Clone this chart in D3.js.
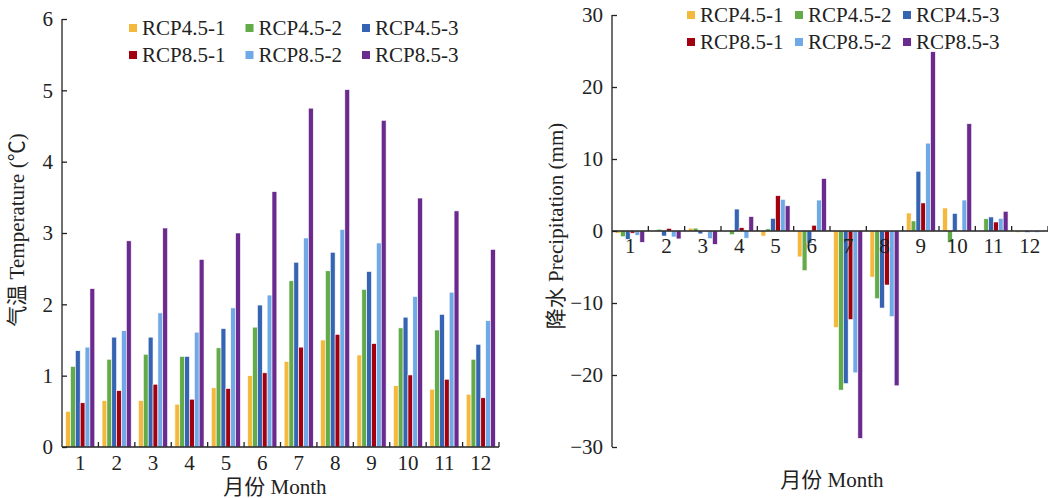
<!DOCTYPE html>
<html>
<head>
<meta charset="utf-8">
<script src="https://cdn.jsdelivr.net/npm/d3@7"></script>
<style>
  body { margin: 0; background: #fff; }
  svg text { font-family: "Liberation Serif", "Noto Sans CJK SC", serif; fill: #222; }
  .axis path, .axis line { stroke: #222; stroke-width: 1.3; }
</style>
</head>
<body>
<div id="chart"></div>
<script>
var months = ["1","2","3","4","5","6","7","8","9","10","11","12"];
var seriesNames = ["RCP4.5-1","RCP4.5-2","RCP4.5-3","RCP8.5-1","RCP8.5-2","RCP8.5-3"];
var seriesColors = ["#f4b93c","#62ab48","#3565b2","#a2000f","#6fa9e6","#6a2a8e"];

// temperature change (℃), one array per scenario, Jan..Dec
var tempR45_1 = [0.50,0.65,0.65,0.60,0.83,1.00,1.20,1.50,1.29,0.86,0.81,0.74];
var tempR45_2 = [1.13,1.23,1.30,1.27,1.39,1.68,2.33,2.47,2.21,1.67,1.64,1.23];
var tempR45_3 = [1.35,1.54,1.54,1.27,1.66,1.99,2.59,2.73,2.46,1.82,1.86,1.44];
var tempR85_1 = [0.62,0.79,0.88,0.67,0.82,1.04,1.40,1.58,1.45,1.01,0.95,0.69];
var tempR85_2 = [1.40,1.63,1.88,1.61,1.95,2.13,2.93,3.05,2.86,2.11,2.17,1.77];
var tempR85_3 = [2.22,2.89,3.07,2.63,3.00,3.58,4.75,5.01,4.58,3.49,3.31,2.77];

// precipitation change (mm)
var precR45_1 = [-0.3,0.1,0.4,-0.1,-0.7,-3.6,-13.4,-6.4,2.5,3.2,0.05,-0.2];
var precR45_2 = [-0.8,0.25,0.4,-0.5,0.3,-5.5,-22.1,-9.4,1.4,-1.6,1.7,-0.05];
var precR45_3 = [-1.15,-0.7,-0.4,3.05,1.76,-1.7,-21.2,-10.7,8.3,2.45,1.95,-0.2];
var precR85_1 = [-0.3,0.37,-0.1,0.46,4.9,0.8,-12.3,-7.5,3.9,0.1,1.25,-0.05];
var precR85_2 = [-0.6,-0.83,-1.07,-1.0,4.4,4.3,-19.7,-11.9,12.2,4.3,1.76,-0.2];
var precR85_3 = [-1.57,-1.1,-1.85,2.0,3.5,7.3,-28.8,-21.5,24.9,14.9,2.74,-0.05];

var tempTicks = [0,1,2,3,4,5,6];
var precTicks = [-30,-20,-10,0,10,20,30];

var tempSeries = [tempR45_1,tempR45_2,tempR45_3,tempR85_1,tempR85_2,tempR85_3];
var precSeries = [precR45_1,precR45_2,precR45_3,precR85_1,precR85_2,precR85_3];

var fontSize = "21px";

var svg = d3.select("#chart").append("svg")
  .attr("width", 1048).attr("height", 498);

function drawPanel(opt) {
  var g = svg.append("g");
  var x = d3.scaleBand().domain(months).range([opt.left, opt.right])
    .paddingInner(0.2).paddingOuter(0.1);
  var xs = d3.scaleBand().domain(seriesNames).range([0, x.bandwidth()]);
  var y = d3.scaleLinear().domain(opt.domain).range([opt.bottom, opt.top]);

  // bars
  opt.series.forEach(function(vals, si) {
    g.selectAll(".bar" + si)
      .data(vals)
      .enter().append("rect")
      .attr("x", function(d, i) { return x(months[i]) + xs(seriesNames[si]); })
      .attr("width", xs.bandwidth())
      .attr("y", function(d) { return y(Math.max(0, d)); })
      .attr("height", function(d) { return Math.abs(y(d) - y(0)); })
      .attr("fill", seriesColors[si])
      .attr("stroke", "#fff")
      .attr("stroke-width", 0.6);
  });

  // y axis
  var yAxis = d3.axisRight(y).tickValues(opt.ticks).tickSize(5).tickFormat(function(d) {
    return d < 0 ? "\u2212" + Math.abs(d) : d;
  });
  var ya = g.append("g").attr("class", "axis")
    .attr("transform", "translate(" + opt.left + ",0)")
    .call(yAxis);
  ya.select(".domain").attr("d", "M" + 0 + "," + opt.top + "V" + opt.bottom);
  ya.selectAll("text")
    .attr("x", -9).attr("text-anchor", "end")
    .style("font-size", fontSize);

  // x axis line with ticks at group boundaries
  var zeroY = y(0);
  var xa = g.append("g").attr("class", "axis");
  xa.append("line")
    .attr("x1", opt.left).attr("x2", opt.right)
    .attr("y1", zeroY).attr("y2", zeroY);
  d3.range(1, months.length + 1).forEach(function(i) {
    var bx = opt.left + i * x.step();
    xa.append("line")
      .attr("x1", bx).attr("x2", bx)
      .attr("y1", zeroY).attr("y2", zeroY - 5);
  });
  g.selectAll(".mlab")
    .data(months)
    .enter().append("text")
    .attr("x", function(d) { return x(d) + x.bandwidth() / 2; })
    .attr("y", zeroY + opt.labelDy)
    .attr("text-anchor", "middle")
    .style("font-size", fontSize)
    .text(function(d) { return d; });

  // axis titles
  g.append("text")
    .attr("transform", "translate(" + opt.yTitleX + "," + opt.yTitleY + ") rotate(-90)")
    .attr("text-anchor", "middle")
    .style("font-size", fontSize)
    .text(opt.yTitle);
  g.append("text")
    .attr("x", opt.xTitleX).attr("y", opt.xTitleY)
    .attr("text-anchor", "middle")
    .style("font-size", fontSize)
    .text("月份 Month");

  // legend
  var lg = g.append("g");
  seriesNames.forEach(function(name, i) {
    var col = i % 3, row = Math.floor(i / 3);
    var lx = opt.legX + col * opt.legStep, ly = opt.legY + row * opt.legRow;
    lg.append("rect")
      .attr("x", lx).attr("y", ly - 4).attr("width", 8).attr("height", 8)
      .attr("fill", seriesColors[i]);
    lg.append("text")
      .attr("x", lx + opt.legGap).attr("y", ly + 7)
      .style("font-size", fontSize)
      .text(name);
  });
}

drawPanel({
  series: tempSeries, domain: [0, 6], ticks: tempTicks,
  left: 62, right: 499, top: 19, bottom: 447, labelDy: 23,
  yTitle: "气温 Temperature (\u2103)", yTitleX: 24, yTitleY: 230,
  xTitleX: 275, xTitleY: 494,
  legX: 129, legY: 28, legStep: 116.5, legRow: 27, legGap: 13
});

drawPanel({
  series: precSeries, domain: [-30, 30], ticks: precTicks,
  left: 612, right: 1048, top: 15, bottom: 447, labelDy: 22,
  yTitle: "降水 Precipitation (mm)", yTitleX: 563, yTitleY: 226,
  xTitleX: 832, xTitleY: 487,
  legX: 687, legY: 15, legStep: 108, legRow: 27, legGap: 13
});
</script>
</body>
</html>
